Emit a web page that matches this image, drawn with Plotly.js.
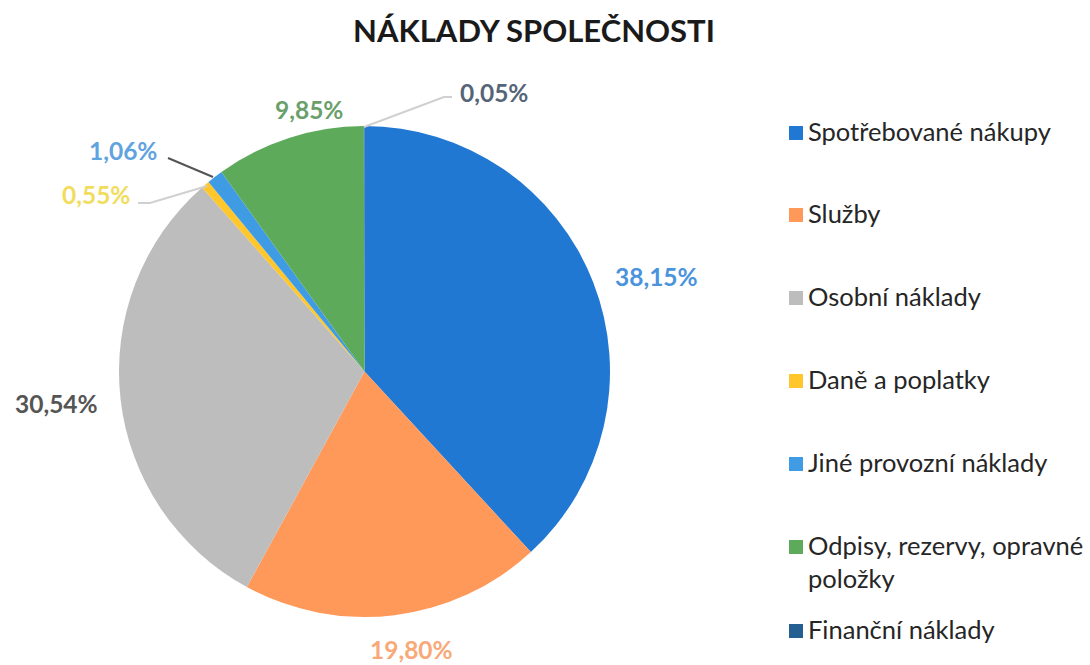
<!DOCTYPE html>
<html>
<head>
<meta charset="utf-8">
<script src="https://cdn.plot.ly/plotly-3.0.1.min.js"></script>
<style>
  html, body { margin: 0; padding: 0; background: #ffffff; }
  #chart { width: 1090px; height: 665px; }
</style>
</head>
<body>
<div id="chart"></div>
<script>
// ---- data ----
const categories = [
  "Spotřebované nákupy",
  "Služby",
  "Osobní náklady",
  "Daně a poplatky",
  "Jiné provozní náklady",
  "Odpisy, rezervy, opravné položky",
  "Finanční náklady"
];
const legendLabels = [
  "Spotřebované nákupy",
  "Služby",
  "Osobní náklady",
  "Daně a poplatky",
  "Jiné provozní náklady",
  "Odpisy, rezervy, opravné<br>položky",
  "Finanční náklady"
];
const shares = [38.15, 19.80, 30.54, 0.55, 1.06, 9.85, 0.05];
const chartTitle = "NÁKLADY SPOLEČNOSTI";

// ---- styles ----
const sliceColors = ["#2178d2", "#ff995a", "#bdbdbd", "#ffc72c", "#3f9be4", "#5daa5a", "#255e91"];
const labelColors = ["#4a93dd", "#f9a877", "#555555", "#f2dc5c", "#5fa3df", "#6a9f6c", "#556577"];
const W = 1090, H = 665;
const px = x => x / W;
const py = y => 1 - y / H;

// label placement (pixels) and leader lines
const labelPos = [[656, 276], [411, 649], [56, 403], [96, 195], [123, 150], [309, 109], [494, 93]];
const leaders = [
  {pts: [[168, 158], [213, 177]], color: "#555555"},
  {pts: [[138, 203], [150, 203], [207, 186]], color: "#d0d0d0"},
  {pts: [[452, 97], [444, 97], [364, 127]], color: "#d0d0d0"}
];
const legendY = [130, 212, 295, 378, 461, 544, 628];

const annotations = [];
const shapes = [];

shares.forEach((v, i) => {
  annotations.push({
    xref: "paper", yref: "paper",
    x: px(labelPos[i][0]), y: py(labelPos[i][1]),
    xanchor: "center", yanchor: "middle",
    text: v.toFixed(2).replace(".", ",") + "%",
    showarrow: false,
    font: {family: "Lato, 'Open Sans', sans-serif", size: 24.5, color: labelColors[i], weight: 700}
  });
});

leaders.forEach(l => {
  let path = "";
  l.pts.forEach((p, k) => {
    path += (k === 0 ? "M" : " L") + px(p[0]) + "," + py(p[1]);
  });
  shapes.push({type: "path", xref: "paper", yref: "paper", path: path,
    line: {color: l.color, width: 2}});
});

// legend drawn from categories
legendLabels.forEach((lab, i) => {
  const yc = legendY[i];
  shapes.push({
    type: "rect", xref: "paper", yref: "paper",
    x0: px(789), x1: px(803), y0: py(yc - 4), y1: py(yc + 10),
    fillcolor: sliceColors[i], line: {width: 0}
  });
  annotations.push({
    xref: "paper", yref: "paper",
    x: px(806), y: py(yc - 16),
    xanchor: "left", yanchor: "top", align: "left",
    text: lab, showarrow: false,
    font: {family: "Lato, 'Open Sans', sans-serif", size: 25.5, color: "#262626"}
  });
});

const trace = {
  type: "pie",
  labels: categories,
  values: shares,
  sort: false,
  direction: "clockwise",
  rotation: 0,
  marker: {colors: sliceColors, line: {color: "#ffffff", width: 0}},
  textinfo: "none",
  hoverinfo: "label+percent",
  showlegend: false,
  domain: {x: [px(118), px(611)], y: [py(617), py(126)]}
};

const layout = {
  width: W, height: H,
  margin: {l: 0, r: 0, t: 0, b: 0},
  paper_bgcolor: "#ffffff",
  title: {
    text: chartTitle,
    x: px(534), xanchor: "center",
    y: py(31), yanchor: "middle",
    font: {family: "Lato, 'Open Sans', sans-serif", size: 31, color: "#1a1a1a", weight: 700}
  },
  showlegend: false,
  annotations: annotations,
  shapes: shapes
};

Plotly.newPlot("chart", [trace], layout, {displayModeBar: false, staticPlot: true});
</script>
</body>
</html>
